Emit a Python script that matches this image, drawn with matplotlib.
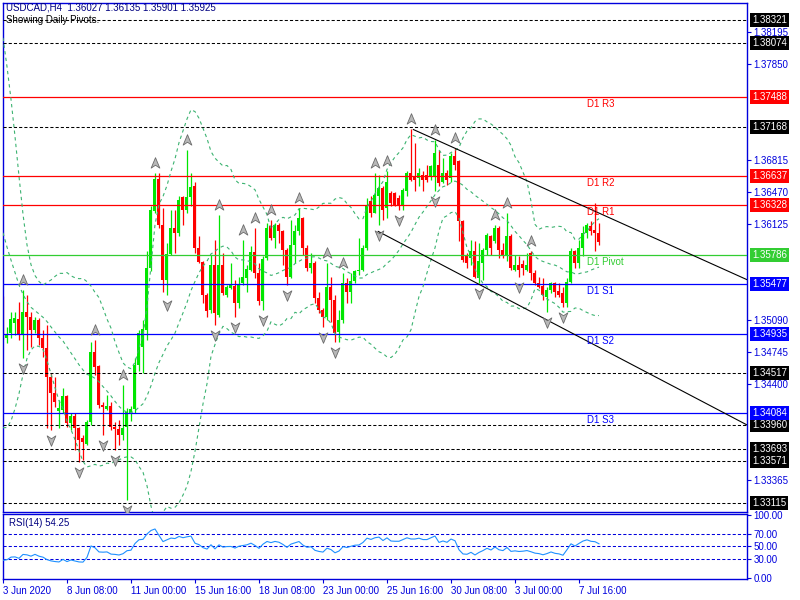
import numpy as np
import matplotlib
matplotlib.use('Agg')
import matplotlib.pyplot as plt
from matplotlib.path import Path
from matplotlib.transforms import offset_copy, blended_transform_factory

plt.rcParams['font.family'] = ['Liberation Sans', 'DejaVu Sans']

# USDCAD H4 candles, 3 Jun 16:00 .. 8 Jul 12:00
opens = [1.35340, 1.34890, 1.34944, 1.35050, 1.35096, 1.34926, 1.35171, 1.35124, 1.34980, 1.35088,
         1.34890, 1.34782, 1.34476, 1.34296, 1.34110, 1.34116, 1.34267, 1.33972, 1.34054, 1.33918,
         1.33810, 1.33756, 1.33990, 1.34746, 1.34591, 1.34170, 1.34127, 1.34163, 1.33936, 1.33907,
         1.33846, 1.33936, 1.34080, 1.34130, 1.34600, 1.34800, 1.34980, 1.35646, 1.36258, 1.36608,
         1.36114, 1.35520, 1.35801, 1.36078, 1.36030, 1.36412, 1.36268, 1.36412, 1.36528, 1.35862,
         1.35707, 1.35358, 1.35200, 1.35682, 1.35142, 1.35682, 1.35358, 1.35430, 1.35455, 1.35268,
         1.35484, 1.35538, 1.35628, 1.35815, 1.35599, 1.35296, 1.35754, 1.36096, 1.35970, 1.36114,
         1.36042, 1.35844, 1.35556, 1.35898, 1.36042, 1.36186, 1.35862, 1.35646, 1.35700, 1.35322,
         1.35196, 1.35124, 1.35448, 1.35304, 1.34962, 1.35088, 1.35484, 1.35394, 1.35512, 1.35610,
         1.35628, 1.35862, 1.36366, 1.36240, 1.36420, 1.36510, 1.36290, 1.36460, 1.36456, 1.36402,
         1.36312, 1.36474, 1.36672, 1.36636, 1.36618, 1.36654, 1.36654, 1.36636, 1.36636, 1.36762,
         1.36580, 1.36672, 1.36618, 1.36852, 1.36798, 1.36150, 1.35772, 1.35754, 1.35826, 1.35538,
         1.35700, 1.35844, 1.35988, 1.35934, 1.36078, 1.35844, 1.35772, 1.35990, 1.35628, 1.35682,
         1.35690, 1.35628, 1.35808, 1.35592, 1.35490, 1.35450, 1.35340, 1.35412, 1.35484, 1.35400,
         1.35376, 1.35268, 1.35502, 1.35826, 1.35700, 1.35862, 1.36024, 1.36100, 1.36053, 1.36027]
highs = [1.35345, 1.35016, 1.35178, 1.35178, 1.35286, 1.35412, 1.35358, 1.35178, 1.35124, 1.35106,
         1.34980, 1.35034, 1.34512, 1.34476, 1.34224, 1.34350, 1.34280, 1.34080, 1.34080, 1.33930,
         1.33846, 1.34008, 1.34854, 1.34872, 1.34602, 1.34206, 1.34278, 1.34206, 1.33990, 1.34008,
         1.34386, 1.34134, 1.34160, 1.34674, 1.34980, 1.35090, 1.35826, 1.36312, 1.36672, 1.36672,
         1.36291, 1.35916, 1.36276, 1.36276, 1.36420, 1.36420, 1.36924, 1.36672, 1.36571, 1.35988,
         1.35718, 1.35380, 1.35790, 1.35952, 1.36222, 1.35808, 1.35466, 1.35700, 1.35520, 1.35556,
         1.35952, 1.35682, 1.35880, 1.36078, 1.35700, 1.35772, 1.36132, 1.36161, 1.36130, 1.36130,
         1.36060, 1.35862, 1.36168, 1.36114, 1.36294, 1.36200, 1.35898, 1.35808, 1.35718, 1.35394,
         1.35214, 1.35700, 1.35556, 1.35358, 1.35196, 1.35592, 1.35538, 1.35592, 1.35628, 1.35970,
         1.35898, 1.36402, 1.36420, 1.36672, 1.36654, 1.36530, 1.36688, 1.36474, 1.36470, 1.36438,
         1.36510, 1.36688, 1.37150, 1.36994, 1.36726, 1.36690, 1.36762, 1.36762, 1.37032, 1.36924,
         1.36834, 1.36708, 1.36888, 1.36942, 1.36816, 1.36168, 1.35808, 1.35952, 1.35934, 1.35916,
         1.35862, 1.36020, 1.36006, 1.36114, 1.36096, 1.35916, 1.36240, 1.36010, 1.35790, 1.35772,
         1.35736, 1.35808, 1.35826, 1.35628, 1.35556, 1.35538, 1.35448, 1.35502, 1.35502, 1.35484,
         1.35448, 1.35538, 1.35862, 1.35844, 1.35952, 1.36096, 1.36132, 1.36150, 1.36348, 1.36135]
lows = [1.34885, 1.34836, 1.34890, 1.34926, 1.34872, 1.34674, 1.34764, 1.34800, 1.34944, 1.34818,
        1.34692, 1.33918, 1.33900, 1.34150, 1.33918, 1.34080, 1.33936, 1.33900, 1.33684, 1.33558,
        1.33576, 1.33738, 1.33954, 1.34494, 1.34134, 1.33846, 1.34116, 1.33900, 1.33684, 1.33738,
        1.33792, 1.33144, 1.34000, 1.34080, 1.34540, 1.34520, 1.34872, 1.35610, 1.36240, 1.36078,
        1.35394, 1.35358, 1.35790, 1.35808, 1.35990, 1.36114, 1.36240, 1.36312, 1.35808, 1.35700,
        1.35268, 1.35120, 1.35160, 1.35034, 1.35120, 1.35358, 1.35340, 1.35420, 1.35124, 1.35214,
        1.35466, 1.35394, 1.35610, 1.35538, 1.35250, 1.35196, 1.35736, 1.35952, 1.35862, 1.35916,
        1.35682, 1.35466, 1.35538, 1.35700, 1.36000, 1.35790, 1.35610, 1.35592, 1.35268, 1.35160,
        1.35016, 1.35088, 1.35070, 1.34854, 1.34854, 1.35060, 1.35268, 1.35268, 1.35484, 1.35574,
        1.35610, 1.35844, 1.36200, 1.36240, 1.36114, 1.36168, 1.36186, 1.36312, 1.36312, 1.36276,
        1.36276, 1.36420, 1.36590, 1.36474, 1.36528, 1.36474, 1.36580, 1.36600, 1.36474, 1.36528,
        1.36564, 1.36546, 1.36580, 1.36708, 1.35934, 1.35715, 1.35646, 1.35682, 1.35538, 1.35484,
        1.35520, 1.35790, 1.35790, 1.35916, 1.35754, 1.35754, 1.35718, 1.35628, 1.35610, 1.35556,
        1.35574, 1.35610, 1.35520, 1.35466, 1.35430, 1.35304, 1.35178, 1.35376, 1.35340, 1.35340,
        1.35232, 1.35232, 1.35484, 1.35646, 1.35646, 1.35772, 1.35970, 1.36006, 1.35826, 1.35901]
closes = [1.34890, 1.34926, 1.35096, 1.35110, 1.34926, 1.35171, 1.35124, 1.34980, 1.35088, 1.34890,
          1.34782, 1.34476, 1.34296, 1.34200, 1.34140, 1.34267, 1.33972, 1.34054, 1.33918, 1.33792,
          1.33767, 1.33990, 1.34746, 1.34584, 1.34170, 1.34145, 1.34163, 1.33936, 1.33907, 1.33846,
          1.33918, 1.34098, 1.34130, 1.34600, 1.34950, 1.34990, 1.35646, 1.36276, 1.36608, 1.36114,
          1.35520, 1.35801, 1.36078, 1.36030, 1.36384, 1.36268, 1.36412, 1.36521, 1.35862, 1.35707,
          1.35358, 1.35180, 1.35682, 1.35160, 1.35682, 1.35376, 1.35448, 1.35462, 1.35268, 1.35477,
          1.35556, 1.35636, 1.35815, 1.35599, 1.35296, 1.35743, 1.36078, 1.35970, 1.36114, 1.36042,
          1.35844, 1.35556, 1.35898, 1.36042, 1.36186, 1.35862, 1.35646, 1.35700, 1.35322, 1.35196,
          1.35124, 1.35448, 1.35304, 1.34944, 1.35088, 1.35484, 1.35394, 1.35512, 1.35610, 1.35628,
          1.35862, 1.36330, 1.36240, 1.36438, 1.36510, 1.36276, 1.36580, 1.36348, 1.36330, 1.36330,
          1.36492, 1.36672, 1.36600, 1.36600, 1.36672, 1.36600, 1.36600, 1.36744, 1.36888, 1.36564,
          1.36672, 1.36600, 1.36852, 1.36762, 1.36150, 1.35736, 1.35700, 1.35826, 1.35556, 1.35718,
          1.35844, 1.36006, 1.35862, 1.36078, 1.35844, 1.35772, 1.35990, 1.35646, 1.35682, 1.35628,
          1.35646, 1.35682, 1.35592, 1.35484, 1.35448, 1.35358, 1.35412, 1.35484, 1.35394, 1.35358,
          1.35268, 1.35502, 1.35826, 1.35700, 1.35862, 1.36024, 1.36114, 1.36042, 1.36024, 1.35925]

# closes before the visible window (needed by the indicators on the left edge)
history_closes = [1.3790, 1.3840, 1.3795, 1.3845, 1.3800, 1.3850, 1.3795, 1.3845, 1.3790, 1.3840,
                  1.3795, 1.3845, 1.3800, 1.3835, 1.3805,
                  1.3810, 1.3800, 1.3790, 1.3780, 1.3760, 1.3720, 1.3670, 1.3620, 1.3580, 1.3560,
                  1.3550, 1.3540, 1.3545, 1.3530, 1.3520, 1.3515, 1.3525, 1.3530, 1.3520, 1.3510]

date_ticks = [0, 16, 32, 48, 64, 80, 96, 112, 128, 144]
date_labels = ['3 Jun 2020', '8 Jun 08:00', '11 Jun 00:00', '15 Jun 16:00', '18 Jun 08:00',
               '23 Jun 00:00', '25 Jun 16:00', '30 Jun 08:00', '3 Jul 00:00', '7 Jul 16:00']

price_ticks = [1.38195, 1.37850, 1.36815, 1.36470, 1.36125, 1.35090, 1.34745, 1.34400, 1.33365]

pivot_names = ['D1 R3', 'D1 R2', 'D1 R1', 'D1 Pivot', 'D1 S1', 'D1 S2', 'D1 S3']
pivot_levels = [1.37488, 1.36637, 1.36328, 1.35786, 1.35477, 1.34935, 1.34084]
other_levels = [1.38321, 1.38074, 1.37168, 1.34517, 1.33960, 1.33693, 1.33571, 1.33115]

upper_trend_bars = [102.6, 186.1]
upper_trend_prices = [1.37140, 1.35520]
lower_trend_bars = [93.8, 186.1]
lower_trend_prices = [1.36042, 1.33954]

rsi_levels = [70, 50, 30]

FG = '#0000dd'
BULL = '#00e600'
BEAR = '#ff0000'
PIV_GREEN = '#32cd32'
FS = 7

opens = np.array(opens); highs = np.array(highs)
lows = np.array(lows); closes = np.array(closes)
n_bars = len(closes)
x = np.arange(n_bars)

fig = plt.figure(figsize=(8, 6), dpi=100)
ax = fig.add_axes([3/800, 1-511.7/600, 744.3/800, 508.7/600])
rax = fig.add_axes([3/800, 1-579/600, 744.3/800, 64.7/600])

for a in (ax, rax):
    for s in a.spines.values():
        s.set_color(FG)
        s.set_linewidth(1)
    a.set_xlim(0, 186.08)

ax.set_ylim(1.33021, 1.38504)
rax.set_ylim(-2.1, 101.1)

# candles
col = np.where(closes >= opens, BULL, BEAR)
ax.vlines(x, lows, highs, colors=col, lw=0.9, zorder=2)
body = np.maximum(np.abs(closes - opens), 0.00005)
ax.bar(x, body, bottom=np.minimum(opens, closes), width=0.75, color=col, lw=0, zorder=2)

# bollinger bands 20, 2
allc = np.concatenate([history_closes, closes])
per = 20
mid = np.array([allc[k-per+1:k+1].mean() for k in range(per-1, len(allc))])[-n_bars:]
sd = np.array([allc[k-per+1:k+1].std() for k in range(per-1, len(allc))])[-n_bars:]
for band in (mid, mid + 2*sd, mid - 2*sd):
    ax.plot(x, band, color='#3cb371', lw=0.8, ls=(0, (3, 3)), zorder=3.5)

# levels
for lv in other_levels:
    ax.axhline(lv, color='black', lw=0.75, ls=(0, (3, 2)), zorder=3)

def piv_color(name):
    if 'R' in name:
        return '#ff0000'
    if 'S' in name:
        return '#0000ff'
    return PIV_GREEN

for name, lv in zip(pivot_names, pivot_levels):
    c = piv_color(name)
    ax.axhline(lv, color=c, lw=0.9, zorder=3)
    ax.annotate(name, (145.9, lv), xytext=(0, -1.5), textcoords='offset points',
                color=c, fontsize=FS, va='top', ha='left', zorder=5)

# trend lines
ax.plot(upper_trend_bars, upper_trend_prices, color='black', lw=0.8, zorder=4)
ax.plot(lower_trend_bars, lower_trend_prices, color='black', lw=0.8, zorder=4)

# fractals
up_idx = [i for i in range(2, n_bars-2)
          if highs[i] > highs[i-2:i].max() and highs[i] >= highs[i+1:i+3].max()]
dn_idx = [i for i in range(2, n_bars-2)
          if lows[i] < lows[i-2:i].min() and lows[i] <= lows[i+1:i+3].min()]
verts = [(0, 1), (0.75, -0.8), (0, -0.3), (-0.75, -0.8), (0, 1)]
codes = [Path.MOVETO, Path.LINETO, Path.LINETO, Path.LINETO, Path.CLOSEPOLY]
arrow_up = Path(verts, codes)
arrow_dn = Path([(vx, -vy) for vx, vy in verts], codes)
ax.scatter(up_idx, highs[up_idx], marker=arrow_up, s=70, c='#b8b8b8', edgecolors='#6a6a6a',
           linewidths=0.6, transform=offset_copy(ax.transData, fig=fig, y=10, units='dots'), zorder=4)
ax.scatter(dn_idx, lows[dn_idx], marker=arrow_dn, s=70, c='#b8b8b8', edgecolors='#6a6a6a',
           linewidths=0.6, transform=offset_copy(ax.transData, fig=fig, y=-10, units='dots'), zorder=4)

# price axis
ax.yaxis.tick_right()
ax.set_yticks(price_ticks)
ax.set_yticklabels([f'{v:.5f}' for v in price_ticks])
ax.tick_params(axis='y', colors=FG, labelsize=FS, length=3, width=0.8, pad=1.5)
ax.set_xticks([])

trans = blended_transform_factory(ax.transAxes, ax.transData)
for lv in other_levels:
    ax.text(1.0064, lv, f'{lv:.5f}', transform=trans, color='white', fontsize=FS, va='center',
            ha='left', clip_on=False, zorder=6,
            bbox=dict(boxstyle='square,pad=0.2', fc='black', ec='none'))
for name, lv in zip(pivot_names, pivot_levels):
    ax.text(1.0064, lv, f'{lv:.5f}', transform=trans, color='white', fontsize=FS, va='center',
            ha='left', clip_on=False, zorder=6,
            bbox=dict(boxstyle='square,pad=0.2', fc=piv_color(name), ec='none'))

# RSI 14
d = np.diff(allc)
g = np.clip(d, 0, None)
l = np.clip(-d, 0, None)
rsi_full = np.full(len(allc), np.nan)
ag, al = g[:14].mean(), l[:14].mean()
rsi_full[14] = 100 - 100/(1 + ag/al)
for k in range(14, len(d)):
    ag = (ag*13 + g[k])/14
    al = (al*13 + l[k])/14
    rsi_full[k+1] = 100 - 100/(1 + ag/al)
rsi = rsi_full[-n_bars:]

rax.plot(x, rsi, color='#1e90ff', lw=0.8, zorder=3)
for lv in rsi_levels:
    rax.axhline(lv, color=FG, lw=0.75, ls=(0, (3, 2)), zorder=2)
rax.yaxis.tick_right()
rax.set_yticks([100, 70, 50, 30, 0])
rax.set_yticklabels(['100.00', '70.00', '50.00', '30.00', '0.00'])
rax.tick_params(axis='y', colors=FG, labelsize=FS, length=3, width=0.8, pad=1.5)
rax.set_xticks(date_ticks)
rax.set_xticklabels(date_labels, ha='left')
rax.tick_params(axis='x', colors=FG, labelsize=FS, length=3, width=0.8, pad=2)
rax.text(6/744.3, 0.86, 'RSI(14) 54.25', transform=rax.transAxes, color='#000080',
         fontsize=FS, va='center', ha='left')

fig.text(6/800, 1-7.5/600, 'USDCAD,H4  1.36027 1.36135 1.35901 1.35925', color='#000080',
         fontsize=FS, va='center', ha='left')
fig.text(6/800, 1-20/600, 'Showing Daily Pivots.', color='black', fontsize=FS,
         va='center', ha='left')

fig.savefig('out.png', dpi=100, facecolor='white')
